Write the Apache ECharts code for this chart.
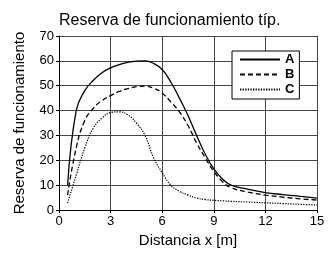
<!DOCTYPE html>
<html>
<head>
<meta charset="utf-8">
<script src="https://cdn.jsdelivr.net/npm/echarts@6/dist/echarts.min.js"></script>
<style>
  html, body { margin: 0; padding: 0; background: #fff; }
  #myChart { width: 335px; height: 253px; }
</style>
</head>
<body>
<div id="myChart"></div>
<script>
  // distancia x [m]
  var xValues = [0.5, 1, 1.5, 2, 2.5, 3, 3.5, 4, 4.5, 5, 5.5, 6, 6.5, 7, 7.5, 8, 8.5, 9, 9.5, 10, 11, 12, 13, 14, 15]
  var serieA = [10, 40, 48, 52.2, 55.2, 57.2, 58.5, 59.4, 59.9, 60, 59, 56.5, 51.5, 45, 38, 30, 22.5, 16.5, 12.5, 10, 8.3, 7, 6.2, 5.5, 4.8]
  var serieB = [6, 25, 36, 41, 44, 46, 47.7, 48.8, 49.6, 49.8, 49, 47, 43.5, 39.5, 34, 27, 21, 15.5, 11.5, 9, 7.2, 6, 5.2, 4.5, 4]
  var serieC = [2.8, 14, 25, 33, 37, 39.2, 39.5, 38.3, 35, 30, 21, 15, 10, 7.5, 6, 4.8, 4.2, 3.9, 3.7, 3.5, 3.2, 2.9, 2.6, 2.3, 2]
  var xTicks = [0, 3, 6, 9, 12, 15]
  var yTicks = [0, 10, 20, 30, 40, 50, 60, 70]

  function pares (ys) {
    return xValues.map(function (x, i) { return [x, ys[i]] })
  }

  var fuente = 'Liberation Sans, Arial, sans-serif'
  var myChart = echarts.init(document.getElementById('myChart'))

  var serieBase = {
    type: 'line',
    symbol: 'none',
    smooth: 0.45,
    silent: true
  }

  myChart.setOption({
    animation: false,
    backgroundColor: '#fff',
    title: {
      text: 'Reserva de funcionamiento típ.',
      left: 54,
      top: 8,
      textStyle: { fontFamily: fuente, fontSize: 16, fontWeight: 'normal', color: '#000' }
    },
    legend: {
      orient: 'vertical',
      left: 232,
      top: 51,
      padding: [2, 5, 3, 7],
      itemWidth: 40,
      itemHeight: 12,
      itemGap: 2,
      backgroundColor: '#fff',
      borderColor: '#000',
      borderWidth: 1,
      borderRadius: 0,
      itemStyle: { opacity: 0 },
      textStyle: { fontFamily: fuente, fontSize: 13, fontWeight: 'bold', color: '#000' },
      data: ['A', 'B', 'C']
    },
    grid: { left: 59, right: 18, top: 36, bottom: 41, show: false },
    xAxis: {
      type: 'value',
      min: xTicks[0],
      max: xTicks[xTicks.length - 1],
      interval: 3,
      name: 'Distancia x [m]',
      nameLocation: 'middle',
      nameGap: 23,
      nameTextStyle: { fontFamily: fuente, fontSize: 15, color: '#000' },
      axisLine: { show: true, lineStyle: { color: '#000', width: 1 } },
      axisTick: { show: true, length: 3, lineStyle: { color: '#000' } },
      axisLabel: { fontFamily: fuente, fontSize: 13, color: '#000', margin: 5 },
      splitLine: { show: true, lineStyle: { color: '#444', width: 1 } }
    },
    yAxis: {
      type: 'value',
      min: yTicks[0],
      max: yTicks[yTicks.length - 1],
      interval: 10,
      name: 'Reserva de funcionamiento',
      nameLocation: 'middle',
      nameGap: 32,
      nameTextStyle: { fontFamily: fuente, fontSize: 15, color: '#000' },
      axisLine: { show: true, lineStyle: { color: '#000', width: 1 } },
      axisTick: { show: true, length: 3, lineStyle: { color: '#000' } },
      axisLabel: { fontFamily: fuente, fontSize: 13, color: '#000', margin: 5 },
      splitLine: { show: true, lineStyle: { color: '#444', width: 1 } }
    },
    series: [
      Object.assign({}, serieBase, {
        name: 'A',
        data: pares(serieA),
        lineStyle: { color: '#000', width: 1.3, type: 'solid' },
        itemStyle: { color: '#000' }
      }),
      Object.assign({}, serieBase, {
        name: 'B',
        data: pares(serieB),
        lineStyle: { color: '#000', width: 1.3, type: [5, 3] },
        itemStyle: { color: '#000' }
      }),
      Object.assign({}, serieBase, {
        name: 'C',
        data: pares(serieC),
        lineStyle: { color: '#000', width: 1.2, type: [1.3, 1.3] },
        itemStyle: { color: '#000' }
      })
    ]
  })
</script>
</body>
</html>
